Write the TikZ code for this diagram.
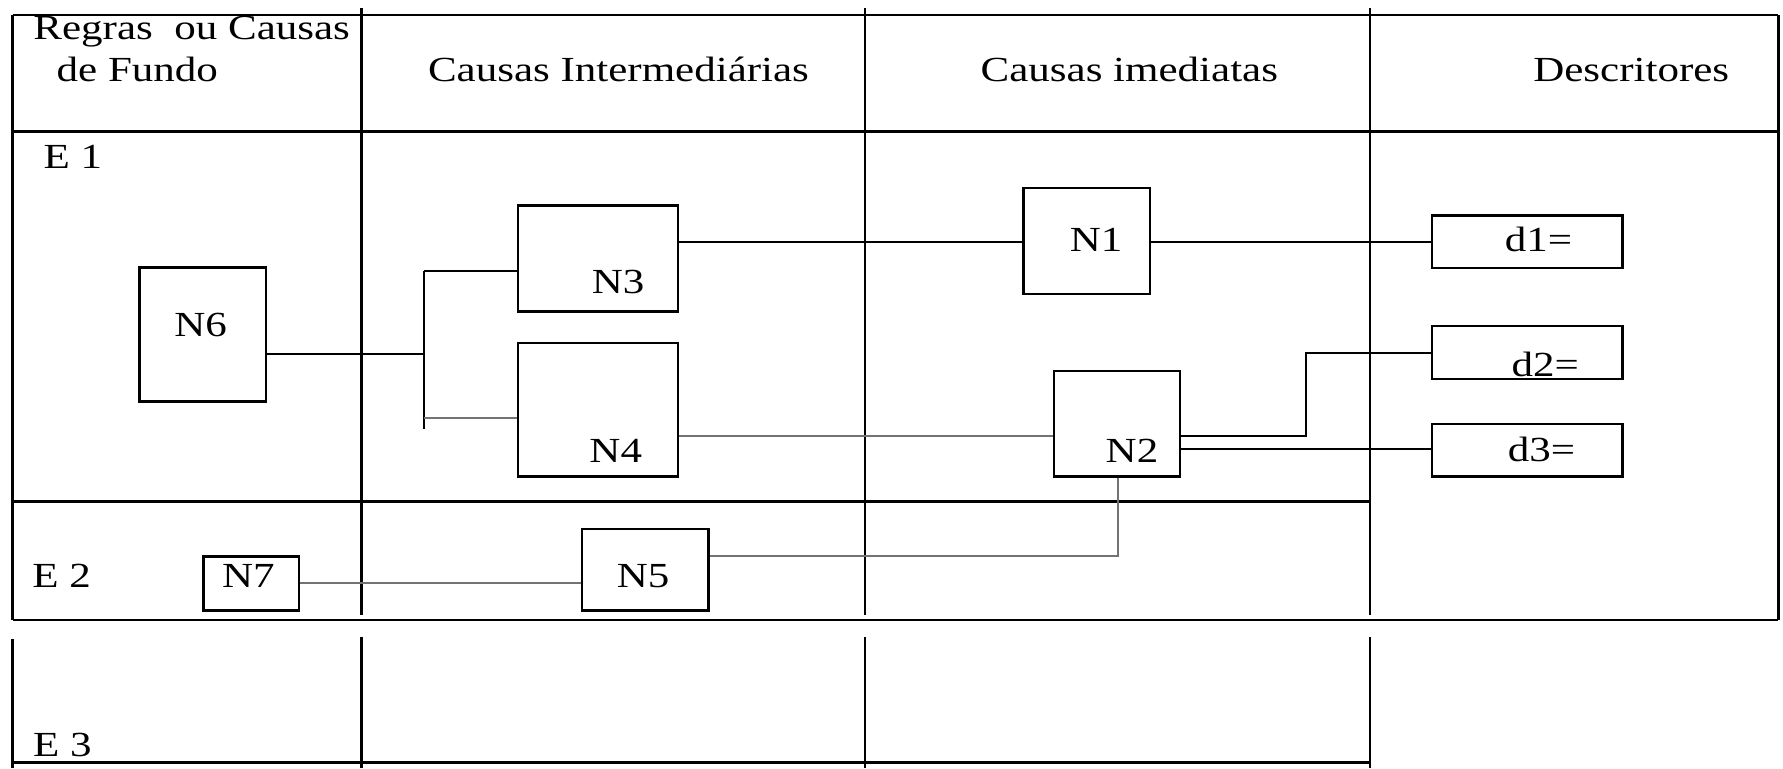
\documentclass[tikz,border=0pt]{standalone}
\usepackage{fontspec}
\setmainfont{Liberation Serif}[FakeStretch=1.22]
\usetikzlibrary{fit}
\begin{document}
\begin{tikzpicture}[x=0.5pt,y=-0.5pt,
  tline/.style={line width=1pt,black},
  conn/.style={line width=0.9pt,black},
  gconn/.style={line width=0.9pt,black!55},
  box/.style={draw,line width=1pt,inner sep=0pt,fill=none},
  lbl/.style={inner sep=0pt,font=\fontsize{15.5}{17}\selectfont}]
\useasboundingbox (0,0) rectangle (1568,675.4);
% table
\draw[tline] (11,13.2) -- (1564,13.2);
\draw[tline] (11,115.7) -- (1564,115.7);
\draw[tline] (11,441) -- (1205,441);
\draw[tline] (11,545) -- (1564,545);
\draw[tline] (11,13.2) -- (11,545);
\draw[tline] (1564,13.2) -- (1564,545);
\draw[tline] (318,7) -- (318,540.6);
\draw[tline] (760.4,7) -- (760.4,540.6);
\draw[tline] (1205,7) -- (1205,540.6);
% E3 section
\draw[tline] (11,562) -- (11,675.4);
\draw[tline] (318,560) -- (318,675.4);
\draw[tline] (760.4,560) -- (760.4,675.4);
\draw[tline] (1205,560) -- (1205,675.4);
\draw[tline] (11,670.5) -- (1205,670.5);
% header texts
\node[lbl,anchor=base west] (h1a) at (29,35) {Regras\ \ ou Causas};
\node[lbl,anchor=base west] (h1b) at (49.5,71.8) {de Fundo};
\node[lbl,anchor=base west] (h2) at (376,71.8) {Causas Intermediárias};
\node[lbl,anchor=base west] (h3) at (862,71.8) {Causas imediatas};
\node[lbl,anchor=base west] (h4) at (1348,71.8) {Descritores};
\node[lbl,anchor=base west] (e1) at (38,148) {E 1};
\node[lbl,anchor=base west] (e2) at (28,517) {E 2};
\node[lbl,anchor=base west] (e3) at (28.7,665) {E 3};
% boxes
\node[box,fit={(122.6,235.3)(234,353)}] (n6) {};
\node[box,fit={(455.5,180.8)(596.4,274)}] (n3) {};
\node[box,fit={(455.5,301.8)(596.4,419)}] (n4) {};
\node[box,fit={(900,165.6)(1011.5,258.5)}] (n1) {};
\node[box,fit={(927,326)(1038,419)}] (n2) {};
\node[box,fit={(1259.5,189.6)(1426.8,235.9)}] (d1) {};
\node[box,fit={(1259.5,286.6)(1426.8,333.4)}] (d2) {};
\node[box,fit={(1259.5,373)(1426.8,419)}] (d3) {};
\node[box,fit={(512,465.3)(623,536.8)}] (n5) {};
\node[box,fit={(179,489.3)(263,536.8)}] (n7) {};
% box labels
\node[lbl,anchor=base west] (tn6) at (153,296) {N6};
\node[lbl,anchor=base west] (tn3) at (520,258.5) {N3};
\node[lbl,anchor=base west] (tn4) at (518,406.7) {N4};
\node[lbl,anchor=base west] (tn1) at (940.5,221) {N1};
\node[lbl,anchor=base west] (tn2) at (972,406.7) {N2};
\node[lbl,anchor=base west] (td1) at (1323,221) {d1=};
\node[lbl,anchor=base west] (td2) at (1329,331) {d2=};
\node[lbl,anchor=base west] (td3) at (1325.6,405.8) {d3=};
\node[lbl,anchor=base west] (tn5) at (542,517) {N5};
\node[lbl,anchor=base west] (tn7) at (195,517) {N7};
% connector coordinates
\coordinate (bk) at (373,311);
\coordinate (bkT) at (373,238);
\coordinate (bkB) at (373,377);
\coordinate (bk4) at (373,368);
\coordinate (j42) at (0,383.8);
\coordinate (jd2) at (1148.6,310.6);
\coordinate (j23) at (0,394.7);
\coordinate (j25) at (983,489.3);
\coordinate (j75) at (0,512.7);
\coordinate (j31) at (0,212.5);
% connectors
\draw[conn] (n6.east |- bk) -- (bk);
\draw[conn] (bkT) -- (bkB);
\draw[conn] (bkT) -- (n3.west |- bkT);
\draw[gconn] (bk4) -- (n4.west |- bk4);
\draw[conn] (n3.east |- j31) -- (n1.west |- j31);
\draw[conn] (n1.east |- j31) -- (d1.west |- j31);
\draw[gconn] (n4.east |- j42) -- (n2.west |- j42);
\draw[conn] (n2.east |- j42) -| (jd2) -- (d2.west |- jd2);
\draw[conn] (n2.east |- j23) -- (d3.west |- j23);
\draw[gconn] (n2.south -| j25) -- (j25) -- (n5.east |- j25);
\draw[gconn] (n7.east |- j75) -- (n5.west |- j75);
\end{tikzpicture}
\end{document}
